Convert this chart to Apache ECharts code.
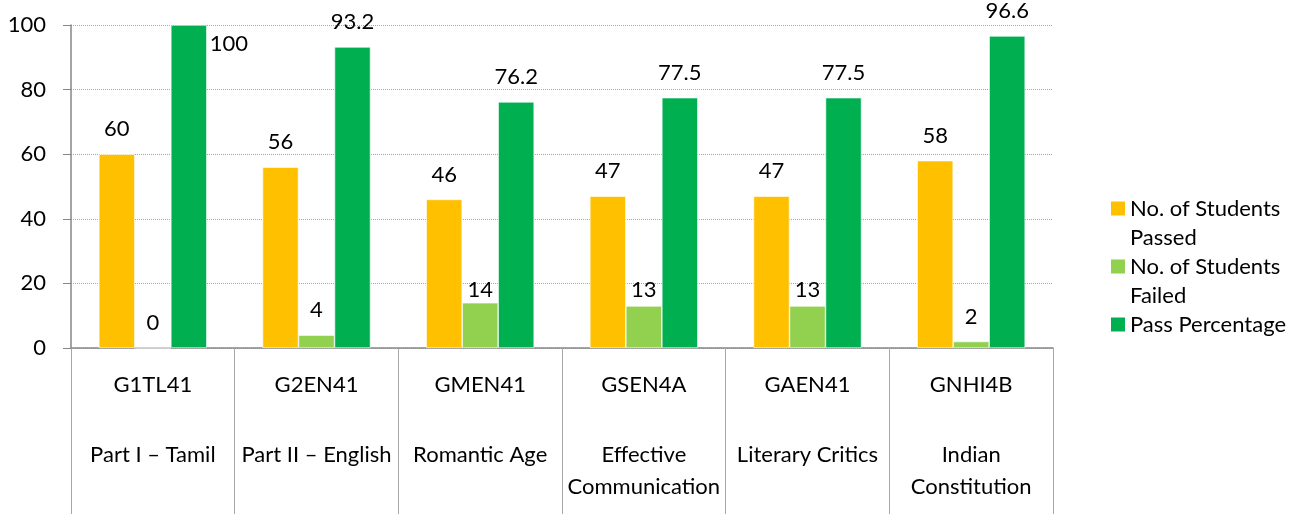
<!DOCTYPE html>
<html>
<head>
<meta charset="utf-8">
<title>Result</title>
<script src="https://cdn.jsdelivr.net/npm/echarts@6/dist/echarts.min.js"></script>
<style>
  body { margin: 0; background: #fff; }
  #main { width: 1300px; height: 514px; }
</style>
</head>
<body>
<div id="main"></div>
<script>
var codes = ['G1TL41', 'G2EN41', 'GMEN41', 'GSEN4A', 'GAEN41', 'GNHI4B'];
var names = ['Part I \u2013 Tamil', 'Part II \u2013 English', 'Romantic Age', 'Effective\nCommunication', 'Literary Critics', 'Indian\nConstitution'];
var passed = [60, 56, 46, 47, 47, 58];
var failed = [0, 4, 14, 13, 13, 2];
var percent = [100, 93.2, 76.2, 77.5, 77.5, 96.6];
var seriesNames = ['No. of Students Passed', 'No. of Students Failed', 'Pass Percentage'];
var legendText = ['No. of Students\nPassed', 'No. of Students\nFailed', 'Pass Percentage\n '];

var FONT = 'Lato';
var FS = 22;

// failed labels 14 / 13 sit closer to their bars
var failedData = failed.map(function (v) {
  if (v >= 10) return { value: v, label: { distance: v == 14 ? 2 : 5 } };
  return v;
});
// 100 doesn't fit above the top, put it beside the bar
var percentData = percent.map(function (v) {
  if (v >= 100) return { value: v, label: { position: [39, 8] } };
  return v;
});

var barLabel = { show: true, position: 'top', distance: 14, color: '#000', fontFamily: FONT, fontSize: FS };

var chart = echarts.init(document.getElementById('main'));
chart.setOption({
  animation: false,
  grid: { left: 71, right: 247, top: 25, bottom: 166 },
  legend: {
    orient: 'vertical',
    left: 1111,
    top: 194,
    padding: 0,
    itemGap: 0,
    itemWidth: 14,
    itemHeight: 43,
    icon: 'path://M0,0H14V14H0Z M0,0V43',
    itemStyle: { borderWidth: 0 },
    textStyle: { fontFamily: FONT, fontSize: FS, color: '#000', lineHeight: 29 },
    formatter: function (n) { return legendText[seriesNames.indexOf(n)]; },
    data: seriesNames
  },
  xAxis: {
    type: 'category',
    data: codes,
    axisLine: { lineStyle: { color: '#868686', width: 1.5 } },
    axisTick: { show: true, interval: 0, length: 166, lineStyle: { color: '#a6a6a6' } },
    axisLabel: {
      interval: 0,
      margin: 22,
      formatter: function (v, i) {
        var lines = names[i].split('\n').map(function (l) { return '{n|' + l + '}'; });
        return '{c|' + v + '}\n{s| }\n' + lines.join('\n');
      },
      rich: {
        c: { fontFamily: FONT, fontSize: FS, color: '#000', lineHeight: 30 },
        s: { fontSize: 10, lineHeight: 39 },
        n: { fontFamily: FONT, fontSize: FS, color: '#000', lineHeight: 32 }
      }
    }
  },
  yAxis: {
    type: 'value',
    min: 0,
    max: 100,
    interval: 20,
    axisLine: { show: true, lineStyle: { color: '#868686', width: 1.5 } },
    axisTick: { show: true, length: 8, lineStyle: { color: '#868686' } },
    axisLabel: { margin: 25, color: '#000', fontFamily: FONT, fontSize: FS },
    splitLine: { lineStyle: { color: '#a6a6a6', type: 'dotted' } }
  },
  series: [
    { name: seriesNames[0], type: 'bar', data: passed, barWidth: 36, barGap: '0%',
      itemStyle: { color: '#FFC000', borderColor: '#fff', borderWidth: 0.6 }, label: barLabel },
    { name: seriesNames[1], type: 'bar', data: failedData, barWidth: 36, barGap: '0%',
      itemStyle: { color: '#92D050', borderColor: '#fff', borderWidth: 0.6 }, label: barLabel },
    { name: seriesNames[2], type: 'bar', data: percentData, barWidth: 36, barGap: '0%',
      itemStyle: { color: '#00B050', borderColor: '#fff', borderWidth: 0.6 }, label: barLabel }
  ]
});
</script>
</body>
</html>
